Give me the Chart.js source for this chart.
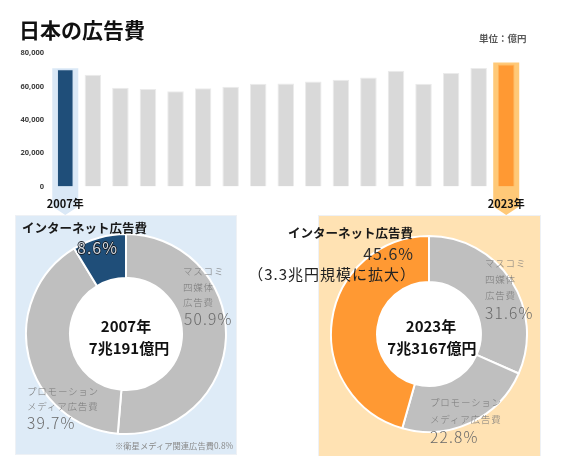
<!DOCTYPE html>
<html lang="ja">
<head>
<meta charset="utf-8">
<title>日本の広告費</title>
<script src="https://cdn.jsdelivr.net/npm/chart.js@4.4.1/dist/chart.umd.min.js"></script>
<style>
  body {
    margin: 0;
    width: 563px;
    height: 456px;
    position: relative;
    overflow: hidden;
    background: #fff;
    font-family: 'Noto Sans CJK JP', 'Noto Sans', sans-serif;
    color: #1a1a1a;
  }
  .panel, .chart-box, .lbl { position: absolute; }
  .panel { box-sizing: border-box; border: 1px solid #eef1f5; }
  .lbl { white-space: nowrap; line-height: 1; transform: translateY(-50%); }
  .center { transform: translate(-50%, -50%); }
  .title { font-size: 21px; font-weight: 700; color: #111; }
  .unit { font-size: 9.5px; font-weight: 700; color: #595959; }
  .net { font-size: 12.5px; font-weight: 700; color: #1a1a1a; }
  .small-gray { font-size: 9.5px; letter-spacing: 0.8px; font-weight: 300; color: #7a7a7a; }
  .pct-gray { font-size: 15.5px; letter-spacing: 1.2px; font-weight: 300; color: #6a6a6a; }
  .pct-dark {
    font-size: 16px; letter-spacing: 1px; font-weight: 400; color: #d3d9e1;
    text-shadow: -0.7px 0 #161c24, 0.7px 0 #161c24, 0 -0.7px #161c24, 0 0.7px #161c24;
  }
  .pct-plain { font-size: 16px; letter-spacing: 1px; font-weight: 400; color: #2e2e2e; }
  .total { font-size: 15px; font-weight: 700; color: #111; }
  .grow { font-size: 15px; letter-spacing: 1px; color: #222; }
  .note { font-size: 8.3px; color: #8a8a8a; }
</style>
</head>
<body>

<div class="panel" style="left:15px; top:215px; width:222px; height:240px; background:#deebf7"></div>
<div class="panel" style="left:318px; top:215px; width:223px; height:242px; background:#ffe2b3"></div>

<div class="chart-box" style="left:0; top:0; width:563px; height:216px"><canvas id="spendChart"></canvas></div>
<div class="chart-box" style="left:25px; top:233px; width:202px; height:202px"><canvas id="donut2007"></canvas></div>
<div class="chart-box" style="left:330px; top:235px; width:198px; height:198px"><canvas id="donut2023"></canvas></div>

<div id="labels"></div>

<script>
// Data
const YEARS = ['2007年', '2008年', '2009年', '2010年', '2011年', '2012年', '2013年', '2014年', '2015年',
               '2016年', '2017年', '2018年', '2019年', '2020年', '2021年', '2022年', '2023年'];
const AD_SPEND = [70191, 66926, 59222, 58427, 57096, 58913, 59762, 61522, 61710,
                  62880, 63907, 65300, 69381, 61594, 67998, 71021, 73167];
const Y_MAX = 80000;
const Y_STEP = 20000;

const MEDIA = ['マスコミ四媒体広告費', 'プロモーションメディア広告費', 'インターネット広告費'];
const SHARE_2007 = [50.9, 39.7, 8.6];
const SHARE_2023 = [31.6, 22.8, 45.6];
const SATELLITE_2007 = 0.8;
const TOTAL_2007 = '7兆191億円';
const TOTAL_2023 = '7兆3167億円';
const NET_SIZE_2023 = '3.3兆円';

// Colours
const GRAY_BAR = '#d9d9d9';
const GRAY_SLICE = '#bfbfbf';
const BLUE = '#1f4e79';
const ORANGE = '#ff9933';
const BLUE_LIGHT = '#dae8f6';
const ORANGE_LIGHT = '#ffc978';

Chart.defaults.font.family = "'Noto Sans CJK JP', 'Noto Sans', sans-serif";

// highlight columns (with a little arrow) behind the first and last year
const highlightPlugin = {
    id: 'highlight',
    beforeDraw(chart) {
        const { ctx, scales: { x, y } } = chart;
        const marks = [
            { i: 0, color: BLUE_LIGHT, lift: 1 },
            { i: YEARS.length - 1, color: ORANGE_LIGHT, lift: 2 }
        ];
        const half = 13;
        ctx.save();
        marks.forEach(m => {
            const cx = x.getPixelForValue(m.i);
            const top = y.getPixelForValue(AD_SPEND[m.i]) - m.lift;
            ctx.fillStyle = m.color;
            ctx.beginPath();
            ctx.moveTo(cx - half, top);
            ctx.lineTo(cx + half, top);
            ctx.lineTo(cx + half, 206.5);
            ctx.lineTo(cx, 215);
            ctx.lineTo(cx - half, 206.5);
            ctx.closePath();
            ctx.fill();
        });
        ctx.restore();
    }
};

// white disc in the doughnut hole
const holePlugin = {
    id: 'hole',
    beforeDatasetsDraw(chart) {
        const arc = chart.getDatasetMeta(0).data[0];
        if (!arc) return;
        const { ctx } = chart;
        ctx.save();
        ctx.fillStyle = '#ffffff';
        ctx.beginPath();
        ctx.arc(arc.x, arc.y, arc.innerRadius, 0, Math.PI * 2);
        ctx.fill();
        ctx.restore();
    }
};

function barColors() {
    return AD_SPEND.map((v, i) => i === 0 ? BLUE : (i === AD_SPEND.length - 1 ? ORANGE : GRAY_BAR));
}

function initSpendChart() {
    const last = YEARS.length - 1;
    new Chart(document.getElementById('spendChart'), {
        type: 'bar',
        data: {
            labels: YEARS,
            datasets: [{
                data: AD_SPEND,
                backgroundColor: barColors(),
                borderColor: AD_SPEND.map((v, i) => i === 0 ? '#cfe0f2' : (i === last ? '#ffb45a' : '#ebebeb')),
                borderWidth: 1,
                barPercentage: 0.6,
                categoryPercentage: 1
            }]
        },
        options: {
            responsive: true,
            maintainAspectRatio: false,
            animation: false,
            layout: { padding: { top: 53, right: 43, left: 0, bottom: 0 } },
            plugins: { legend: { display: false }, tooltip: { enabled: false } },
            scales: {
                x: {
                    grid: { display: false, drawTicks: false },
                    border: { display: false },
                    ticks: {
                        autoSkip: false,
                        maxRotation: 0,
                        padding: 10.5,
                        color: '#111',
                        font: { size: 11, weight: 'bold' },
                        callback: (v, i) => (i === 0 || i === last) ? YEARS[i] : ''
                    },
                    afterFit: s => { s.height = 29.5; }
                },
                y: {
                    min: 0,
                    max: Y_MAX,
                    grid: { display: false, drawTicks: false },
                    border: { display: false },
                    ticks: {
                        stepSize: Y_STEP,
                        padding: 7.5,
                        color: '#404040',
                        font: { size: 7.5, weight: 'bold', family: "'Noto Sans', sans-serif" },
                        callback: v => v.toLocaleString('en-US')
                    },
                    afterFit: s => { s.width = 51.5; }
                }
            }
        },
        plugins: [highlightPlugin]
    });
}

function initDonut(id, shares, accent, cutout) {
    new Chart(document.getElementById(id), {
        type: 'doughnut',
        data: {
            labels: MEDIA,
            datasets: [{
                data: shares,
                backgroundColor: [GRAY_SLICE, GRAY_SLICE, accent],
                borderColor: '#ffffff',
                borderWidth: 2
            }]
        },
        options: {
            responsive: true,
            maintainAspectRatio: false,
            animation: false,
            cutout: cutout,
            layout: { padding: 0 },
            plugins: { legend: { display: false }, tooltip: { enabled: false } }
        },
        plugins: [holePlugin]
    });
}

function addLabel(text, cls, style) {
    const el = document.createElement('div');
    el.className = 'lbl ' + cls;
    el.textContent = text;
    Object.assign(el.style, style);
    document.getElementById('labels').appendChild(el);
}

function pct(v) {
    return v.toFixed(1) + '%';
}

function renderLabels() {
    addLabel('日本の広告費', 'title', { left: '19px', top: '29px' });
    addLabel('単位：億円', 'unit', { left: '479px', top: '39px' });

    // 2007
    addLabel(MEDIA[2], 'net', { left: '22px', top: '228px' });
    addLabel(pct(SHARE_2007[2]), 'pct-dark', { left: '77px', top: '247px' });
    addLabel('マスコミ', 'small-gray', { left: '183px', top: '272px' });
    addLabel('四媒体', 'small-gray', { left: '183px', top: '288px' });
    addLabel('広告費', 'small-gray', { left: '183px', top: '303px' });
    addLabel(pct(SHARE_2007[0]), 'pct-gray', { left: '184px', top: '319px' });
    addLabel('プロモーション', 'small-gray', { left: '27px', top: '392px' });
    addLabel('メディア広告費', 'small-gray', { left: '27px', top: '407px' });
    addLabel(pct(SHARE_2007[1]), 'pct-gray', { left: '27px', top: '423px' });
    addLabel('2007年', 'total center', { left: '126px', top: '325px' });
    addLabel(TOTAL_2007, 'total center', { left: '129px', top: '347px' });
    addLabel('※衛星メディア関連広告費' + pct(SATELLITE_2007), 'note', { left: '115px', top: '445px' });

    // 2023
    addLabel(MEDIA[2], 'net', { right: '150px', top: '233px' });
    addLabel(pct(SHARE_2023[2]), 'pct-plain', { right: '149px', top: '253px' });
    addLabel('（' + NET_SIZE_2023 + '規模に拡大）', 'grow', { right: '147px', top: '273px' });
    addLabel('マスコミ', 'small-gray', { left: '485px', top: '264px' });
    addLabel('四媒体', 'small-gray', { left: '485px', top: '280px' });
    addLabel('広告費', 'small-gray', { left: '485px', top: '296px' });
    addLabel(pct(SHARE_2023[0]), 'pct-gray', { left: '485px', top: '313px' });
    addLabel('プロモーション', 'small-gray', { left: '430px', top: '403px' });
    addLabel('メディア広告費', 'small-gray', { left: '430px', top: '420px' });
    addLabel(pct(SHARE_2023[1]), 'pct-gray', { left: '430px', top: '437px' });
    addLabel('2023年', 'total center', { left: '431px', top: '325px' });
    addLabel(TOTAL_2023, 'total center', { left: '432px', top: '347px' });
}

function init() {
    initSpendChart();
    initDonut('donut2007', SHARE_2007, BLUE, '56%');
    initDonut('donut2023', SHARE_2023, ORANGE, '53%');
    renderLabels();
}

window.addEventListener('DOMContentLoaded', init);
</script>
</body>
</html>
